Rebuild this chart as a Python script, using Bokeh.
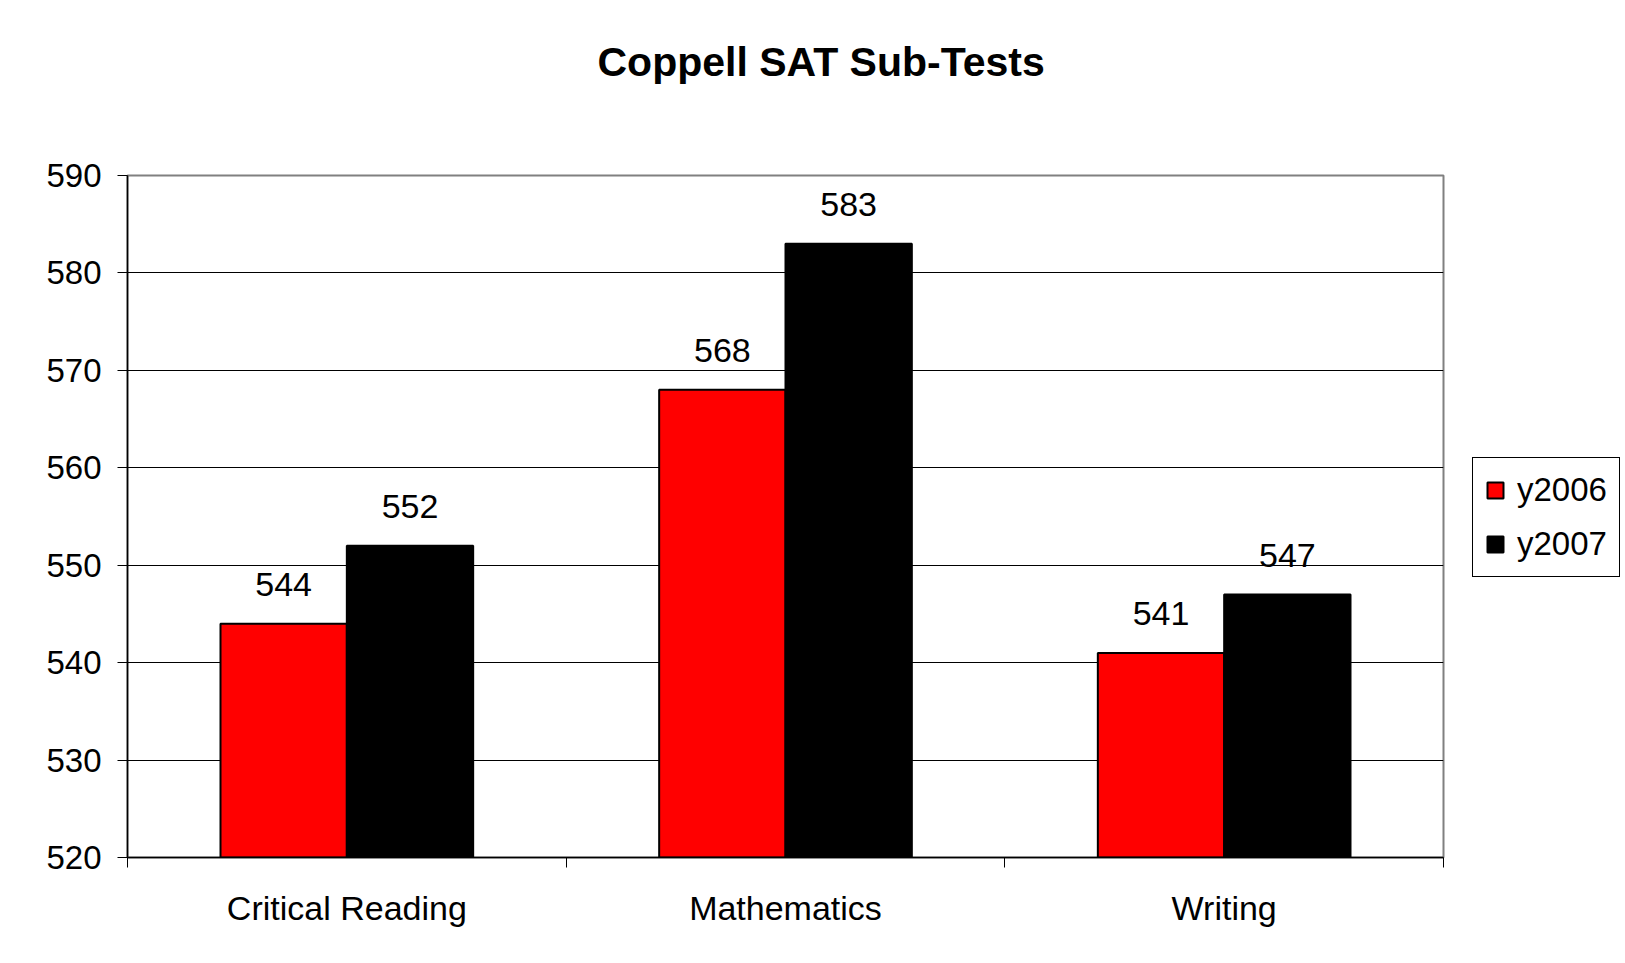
from bokeh.plotting import figure
from bokeh.models import ColumnDataSource, FixedTicker, Legend, LegendItem, Title
from bokeh.transform import dodge
from bokeh.embed import file_html
from bokeh.resources import INLINE
from bokeh.core.properties import value

categories = ["Critical Reading", "Mathematics", "Writing"]
y2006 = [544, 568, 541]
y2007 = [552, 583, 547]
y_ticks = [520, 530, 540, 550, 560, 570, 580, 590]
series_names = ["y2006", "y2007"]
title_text = "Coppell SAT Sub-Tests"

FONT = "Liberation Sans"
centers = [i + 0.5 for i in range(len(categories))]
bounds = list(range(len(categories) + 1))

src = ColumnDataSource(dict(
    x=centers,
    y2006=y2006,
    y2007=y2007,
    l2006=[str(v) for v in y2006],
    l2007=[str(v) for v in y2007],
))

p = figure(frame_width=1316, frame_height=682, x_range=(0, len(categories)),
           y_range=(y_ticks[0], y_ticks[-1]),
           output_backend="svg", toolbar_location=None,
           min_border_left=127, min_border_right=180,
           min_border_top=175, min_border_bottom=101)

bw = 0.288
r1 = p.vbar(x=dodge("x", -bw / 2), top="y2006", bottom=y_ticks[0], width=bw,
            source=src, fill_color="#ff0000", line_color="black", line_width=2)
r2 = p.vbar(x=dodge("x", bw / 2), top="y2007", bottom=y_ticks[0], width=bw,
            source=src, fill_color="black", line_color="black", line_width=2)

p.text(x=dodge("x", -bw / 2), y="y2006", text="l2006", source=src,
       text_align="center", text_baseline="alphabetic", y_offset=-39,
       text_font=value(FONT), text_font_size="34px", text_color="black")
p.text(x=dodge("x", bw / 2), y="y2007", text="l2007", source=src,
       text_align="center", text_baseline="alphabetic", y_offset=-39,
       text_font=value(FONT), text_font_size="34px", text_color="black")

# title (spacer keeps the title high above the frame)
spacer = Title(text=" ", text_font_size="10px", standoff=78)
main_title = Title(text=title_text, align="left", offset=470, standoff=0,
                   text_font=FONT, text_font_size="41px",
                   text_font_style="bold", text_color="black")
p.add_layout(spacer, "above")
p.add_layout(main_title, "above")

# x axis
p.xaxis.ticker = FixedTicker(ticks=centers, minor_ticks=bounds)
p.xaxis.major_label_overrides = {c: n for c, n in zip(centers, categories)}
p.xaxis.major_tick_out = 0
p.xaxis.major_tick_in = 0
p.xaxis.minor_tick_out = 10
p.xaxis.minor_tick_in = 0
p.xaxis.minor_tick_line_color = "black"
p.xaxis.minor_tick_line_width = 1
p.xaxis.major_label_standoff = 21
p.xaxis.major_label_text_font = FONT
p.xaxis.major_label_text_font_size = "34px"
p.xaxis.major_label_text_color = "black"
p.xaxis.axis_line_color = "black"
p.xaxis.axis_line_width = 1.5

# y axis
p.yaxis.ticker = FixedTicker(ticks=y_ticks)
p.yaxis.major_tick_out = 10
p.yaxis.major_tick_in = 0
p.yaxis.minor_tick_line_color = None
p.yaxis.major_tick_line_color = "black"
p.yaxis.major_label_standoff = 16
p.yaxis.major_label_text_font = FONT
p.yaxis.major_label_text_font_size = "33px"
p.yaxis.major_label_text_color = "black"
p.yaxis.axis_line_color = "black"
p.yaxis.axis_line_width = 1.5

p.xgrid.visible = False
p.ygrid.ticker = FixedTicker(ticks=y_ticks)
p.ygrid.grid_line_color = "black"
p.ygrid.grid_line_width = 1

p.outline_line_color = "#808080"
p.outline_line_width = 2
p.background_fill_color = "white"
p.border_fill_color = "white"

legend = Legend(items=[LegendItem(label=series_names[0], renderers=[r1]),
                       LegendItem(label=series_names[1], renderers=[r2])],
                location=(29, 280))
legend.label_text_font = FONT
legend.label_text_font_size = "33px"
legend.label_text_color = "black"
legend.glyph_width = 20
legend.glyph_height = 20
legend.label_height = 40
legend.spacing = 14
legend.padding = 12
legend.label_standoff = 12
legend.margin = 0
legend.border_line_color = "black"
legend.border_line_alpha = 1.0
legend.border_line_width = 1
legend.background_fill_color = "white"
legend.background_fill_alpha = 1.0
p.add_layout(legend, "right")

open("out.html", "w").write(file_html(p, INLINE))
